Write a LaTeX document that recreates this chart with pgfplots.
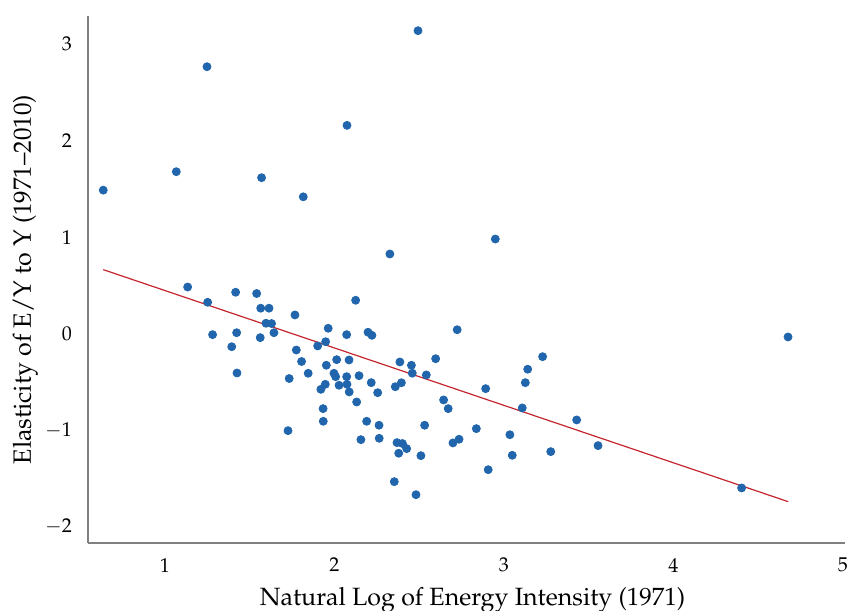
\documentclass[border=0pt]{standalone}
\usepackage[T1]{fontenc}
\usepackage{mathpazo}
\usepackage{pgfplots}
\pgfplotsset{compat=1.18}
\definecolor{dotblue}{RGB}{33,102,172}
\definecolor{fitred}{RGB}{196,38,48}
\definecolor{axgray}{RGB}{128,128,128}
\begin{document}
\begin{tikzpicture}
\path[use as bounding box] (-44pt,-34pt) rectangle (379.5pt,271.5pt);
\begin{axis}[
  scale only axis,
  width=378.5pt, height=263.5pt,
  xmin=0.546, xmax=5.012, ymin=-2.166, ymax=3.29,
  axis x line*=bottom, axis y line*=left,
  axis line style={-, axgray, line width=0.75pt},
  xtick={1,2,3,4,5}, ytick={-2,-1,0,1,2,3},
  major tick length=0pt,
  tick label style={font=\fontsize{10}{12}\selectfont},
  xticklabel style={yshift=-4pt},
  yticklabel style={xshift=-4.5pt},
  xlabel={Natural Log of Energy Intensity (1971)},
  ylabel={Elasticity of E/Y to Y (1971--2010)},
  label style={font=\fontsize{12.5}{14}\selectfont},
  xlabel style={at={(axis description cs:0.5,0)}, anchor=base, yshift=-31pt, xshift=3pt},
  ylabel style={at={([xshift=-21.5pt]axis description cs:0,0.5)}, anchor=south, rotate=0},
  clip=false,
]
\addplot[only marks, mark=*, mark size=2pt, draw=dotblue, fill=dotblue] coordinates {
(0.636,1.487) (1.067,1.678) (1.248,2.765) (1.570,1.616) (1.816,1.418)
(2.074,2.158) (2.493,3.138) (2.327,0.826) (2.949,0.981) (4.676,-0.033)
(4.402,-1.596) (3.555,-1.158) (3.429,-0.892) (3.276,-1.220) (3.228,-0.237)
(3.140,-0.367) (3.126,-0.506) (3.108,-0.768) (3.049,-1.258) (3.035,-1.045)
(2.907,-1.407) (2.892,-0.568) (2.837,-0.982) (2.724,0.042) (2.735,-1.092)
(2.699,-1.130) (2.671,-0.775) (2.644,-0.685) (2.597,-0.258) (2.542,-0.426)
(2.532,-0.947) (2.510,-1.262) (2.481,-1.666) (2.459,-0.408) (2.454,-0.326)
(2.386,-0.292) (2.395,-0.507) (2.359,-0.548) (2.401,-1.136) (2.426,-1.189)
(2.369,-1.127) (2.379,-1.237) (2.353,-1.531)
(1.541,0.417) (1.565,0.265) (1.614,0.265) (1.596,0.109) (1.629,0.106)
(1.643,0.011) (1.562,-0.040) (1.767,0.195) (1.963,0.057) (2.125,0.347)
(2.072,-0.009) (2.198,0.016) (2.221,-0.016) (1.948,-0.082) (1.901,-0.126)
(1.775,-0.168) (1.806,-0.287) (1.845,-0.409) (1.733,-0.463) (1.952,-0.326)
(2.013,-0.268) (2.086,-0.271) (1.997,-0.409) (2.007,-0.444) (2.072,-0.444)
(2.145,-0.434) (2.027,-0.533) (2.074,-0.523) (2.087,-0.602) (1.946,-0.523)
(1.920,-0.575) (2.131,-0.706) (1.933,-0.775) (2.217,-0.506) (2.255,-0.610)
(1.934,-0.906) (1.726,-1.003) (2.190,-0.906) (2.263,-0.947) (2.156,-1.096)
(2.264,-1.082)
(1.134,0.484) (1.252,0.326) (1.417,0.430) (1.281,-0.009) (1.423,0.011)
(1.394,-0.134) (1.425,-0.406)
};
\addplot[fitred, line width=0.6pt] coordinates {(0.636,0.664) (4.677,-1.738)};
\end{axis}
\end{tikzpicture}
\end{document}
